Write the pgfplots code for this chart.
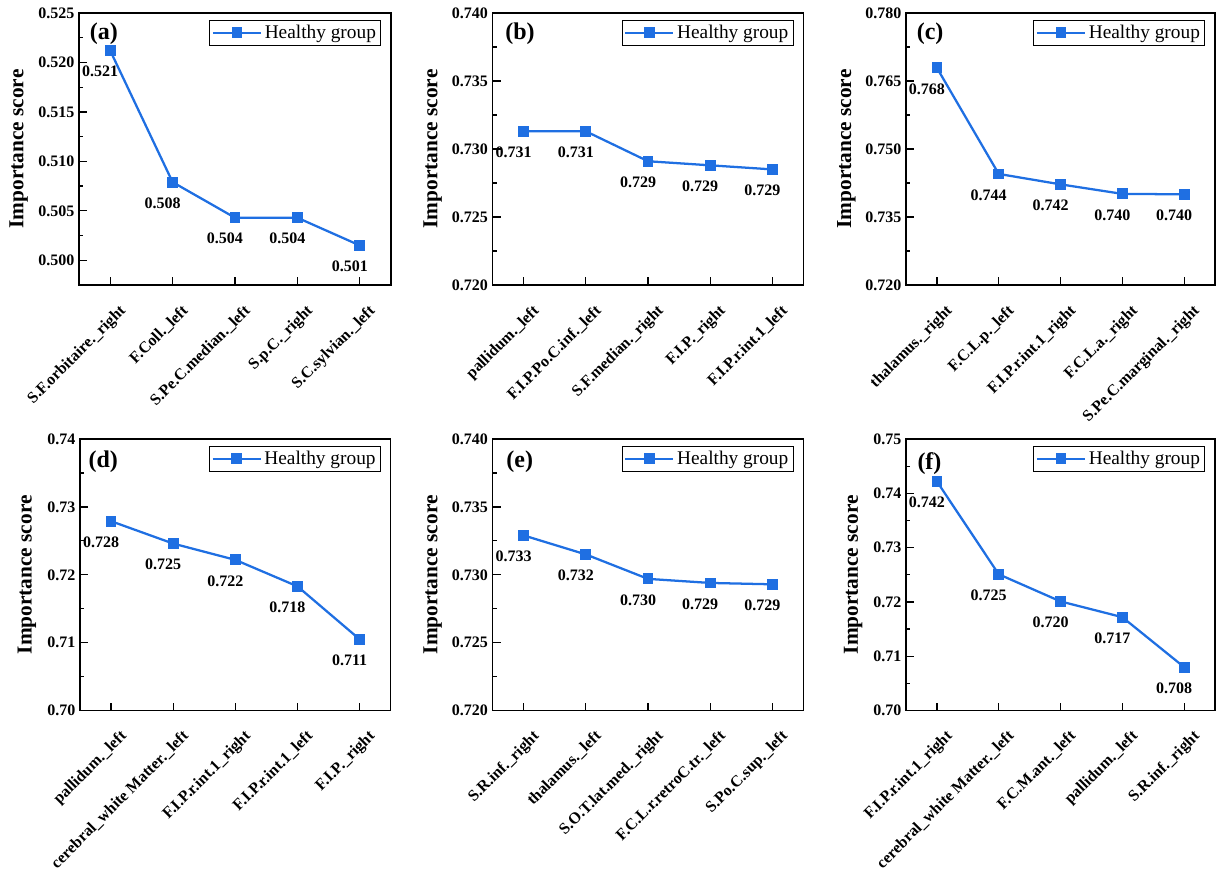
\documentclass[border=0pt]{standalone}
\usepackage{fontspec}
\setmainfont{Liberation Serif}
\usepackage{pgfplots}
\pgfplotsset{compat=1.18}
\definecolor{myblue}{RGB}{31,111,226}
\tikzset{lett/.style={font=\bfseries\fontsize{18}{20}\selectfont}}
\pgfplotsset{
  panel/.style={
    scale only axis, width=233pt, height=204pt,
    xmin=-0.5, xmax=4.5, xtick={0,1,2,3,4},
    tick align=inside, xtick pos=bottom, ytick pos=left,
    major tick length=6pt, minor tick length=3pt,
    minor y tick num=1,
    axis line style={line width=0.9pt},
    tick style={line width=0.9pt, black},
    scaled y ticks=false,
    /pgf/number format/assume math mode=true,
    tick label style={font=\bfseries\fontsize{12}{14}\selectfont},
    xticklabel style={xshift=6pt, yshift=-9pt, rotate=45, anchor=north east, font=\bfseries\fontsize{12}{14}\selectfont},
    yticklabel style={/pgf/number format/.cd, fixed, fixed zerofill, precision=3},
    ylabel={Importance score},
    ylabel style={font=\bfseries\fontsize{16}{19}\selectfont, at={(axis description cs:-0.193,0.5)}, anchor=center},
    legend style={at={(1,1)}, anchor=north east, xshift=-7.5pt, yshift=-5.25pt,
      draw=black, line width=0.6pt, font=\fontsize{14.5}{17}\selectfont,
      inner sep=1.5pt, /tikz/every even column/.append style={column sep=2pt}},
    legend image code/.code={\draw[mark repeat=2,mark phase=2] plot coordinates {(0pt,0pt)(18pt,0pt)(36pt,0pt)};},
    nodes near coords={\pgfplotspointmeta},
    point meta=explicit symbolic,
    every node near coord/.append style={font=\bfseries\fontsize{12}{14}\selectfont, anchor=center, xshift=-7.5pt, yshift=-15.75pt, text=black},
  },
  ser/.style={color=myblue, line width=1.7pt, mark=square*, mark size=3.2pt, mark options={solid, fill=myblue}},
}
\begin{document}
\begin{tikzpicture}
\path[use as bounding box] (0,0) rectangle (912.75pt,654pt);
% (a)
\begin{axis}[panel, at={(59.25pt,440.25pt)}, anchor=south west, width=234pt,
  ymin=0.4975, ymax=0.525, ytick={0.500,0.505,0.510,0.515,0.520,0.525},
  xticklabels={S.F.orbitaire.\_right, F.Coll.\_left, S.Pe.C.median.\_left, S.p.C.\_right, S.C.sylvian.\_left}]
\addplot[ser] coordinates {(0,0.5212) [0.521] (1,0.5079) [0.508] (2,0.5043) [0.504] (3,0.5043) [0.504] (4,0.5015) [0.501]};
\addlegendentry{Healthy group}
\node[lett] at (rel axis cs:0.08,0.922) {(a)};
\end{axis}
% (b)
\begin{axis}[panel, at={(369.5pt,440.25pt)}, anchor=south west,
  ymin=0.720, ymax=0.740, ytick={0.720,0.725,0.730,0.735,0.740},
  xticklabels={pallidum.\_left, F.I.P.Po.C.inf.\_left, S.F.median.\_right, F.I.P.\_right, F.I.P.r.int.1\_left}]
\addplot[ser] coordinates {(0,0.7313) [0.731] (1,0.7313) [0.731] (2,0.7291) [0.729] (3,0.7288) [0.729] (4,0.7285) [0.729]};
\addlegendentry{Healthy group}
\node[lett] at (rel axis cs:0.088,0.922) {(b)};
\end{axis}
% (c)
\begin{axis}[panel, at={(679.5pt,440.25pt)}, anchor=south west, width=231.75pt,
  ymin=0.720, ymax=0.780, ytick={0.720,0.735,0.750,0.765,0.780},
  xticklabels={thalamus.\_right, F.C.L.p.\_left, F.I.P.r.int.1\_right, F.C.L.a.\_right, S.Pe.C.marginal.\_right}]
\addplot[ser] coordinates {(0,0.7679) [0.768] (1,0.7445) [0.744] (2,0.7422) [0.742] (3,0.7401) [0.740] (4,0.7400) [0.740]};
\addlegendentry{Healthy group}
\node[lett] at (rel axis cs:0.078,0.922) {(c)};
\end{axis}
% (d)
\begin{axis}[panel, at={(60pt,121.1pt)}, anchor=south west, height=203.6pt,
  ymin=0.70, ymax=0.74, ytick={0.70,0.71,0.72,0.73,0.74},
  yticklabel style={/pgf/number format/precision=2},
  ylabel style={at={(axis description cs:-0.171,0.5)}},
  xticklabels={pallidum.\_left, cerebral\_white Matter.\_left, F.I.P.r.int.1\_right, F.I.P.r.int.1\_left, F.I.P.\_right}]
\addplot[ser] coordinates {(0,0.7279) [0.728] (1,0.7246) [0.725] (2,0.7222) [0.722] (3,0.7183) [0.718] (4,0.7105) [0.711]};
\addlegendentry{Healthy group}
\node[lett] at (rel axis cs:0.075,0.918) {(d)};
\end{axis}
% (e)
\begin{axis}[panel, at={(369.5pt,121.1pt)}, anchor=south west, height=203.6pt,
  ymin=0.720, ymax=0.740, ytick={0.720,0.725,0.730,0.735,0.740},
  xticklabels={S.R.inf.\_right, thalamus.\_left, S.O.T.lat.med.\_right, F.C.L.r.retroC.tr.\_left, S.Po.C.sup.\_left}]
\addplot[ser] coordinates {(0,0.7329) [0.733] (1,0.7315) [0.732] (2,0.7297) [0.730] (3,0.7294) [0.729] (4,0.7293) [0.729]};
\addlegendentry{Healthy group}
\node[lett] at (rel axis cs:0.087,0.918) {(e)};
\end{axis}
% (f)
\begin{axis}[panel, at={(679.5pt,121.1pt)}, anchor=south west, height=203.6pt, width=231.75pt,
  ymin=0.70, ymax=0.75, ytick={0.70,0.71,0.72,0.73,0.74,0.75},
  yticklabel style={/pgf/number format/precision=2},
  ylabel style={at={(axis description cs:-0.171,0.5)}},
  xticklabels={F.I.P.r.int.1\_right, cerebral\_white Matter.\_left, F.C.M.ant.\_left, pallidum.\_left, S.R.inf.\_right}]
\addplot[ser] coordinates {(0,0.7422) [0.742] (1,0.7251) [0.725] (2,0.7201) [0.720] (3,0.7172) [0.717] (4,0.7080) [0.708]};
\addlegendentry{Healthy group}
\node[lett] at (rel axis cs:0.076,0.91) {(f)};
\end{axis}
\end{tikzpicture}
\end{document}
